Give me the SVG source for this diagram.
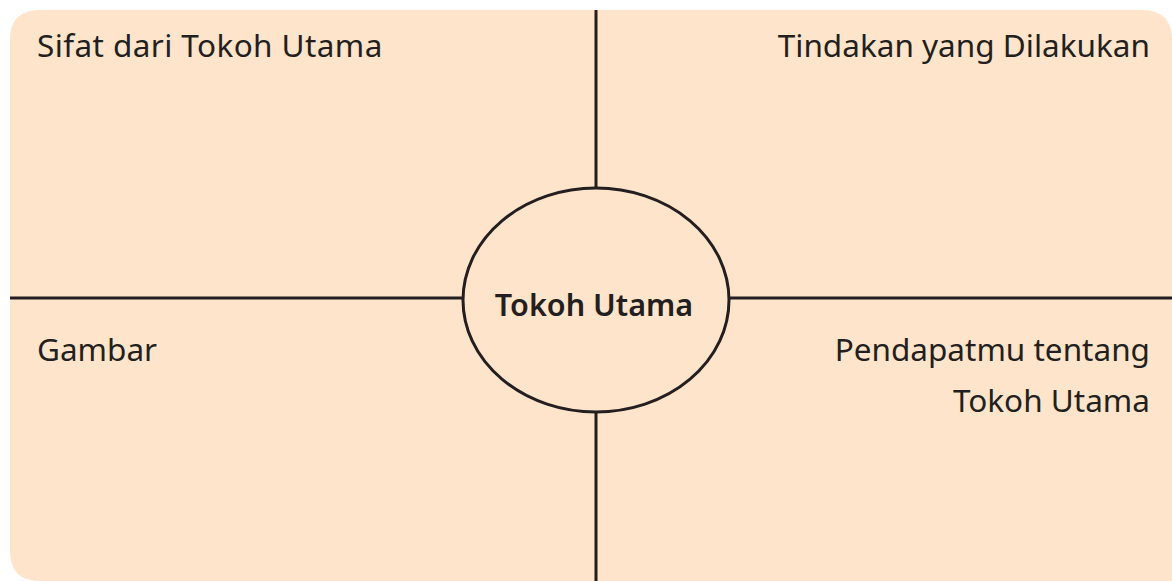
<svg xmlns="http://www.w3.org/2000/svg" width="1172" height="581" viewBox="0 0 1172 581">
<style>
.t{font-family:"Noto Sans","Open Sans",sans-serif;font-size:31.5px;fill:#231f20}
.b{font-weight:600;font-size:30.5px}
.ln{stroke:#231f20;stroke-width:3;fill:none}
</style>
<rect width="1172" height="581" fill="#ffffff"/>
<path d="M40,10 H1142 Q1172,10 1172,40 V581 H40 Q10,581 10,551 V40 Q10,10 40,10 Z" fill="#fee4ca"/>
<g id="connectors">
<line class="ln" x1="596" y1="10" x2="596" y2="188"/>
<line class="ln" x1="596" y1="412" x2="596" y2="581"/>
<line class="ln" x1="10" y1="298" x2="463" y2="298"/>
<line class="ln" x1="729" y1="298" x2="1172" y2="298"/>
</g>
<g id="center">
<ellipse class="ln" cx="596" cy="300" rx="133" ry="112"/>
<text class="t b" x="594" y="316" text-anchor="middle">Tokoh Utama</text>
</g>
<g id="q1"><text class="t" x="37" y="57" letter-spacing="0.4">Sifat dari Tokoh Utama</text></g>
<g id="q2"><text class="t" x="1150" y="57" text-anchor="end">Tindakan yang Dilakukan</text></g>
<g id="q3"><text class="t" x="37" y="361">Gambar</text></g>
<g id="q4"><text class="t" x="1150" y="361" text-anchor="end">Pendapatmu tentang</text><text class="t" x="1150" y="412" text-anchor="end">Tokoh Utama</text></g>
</svg>
